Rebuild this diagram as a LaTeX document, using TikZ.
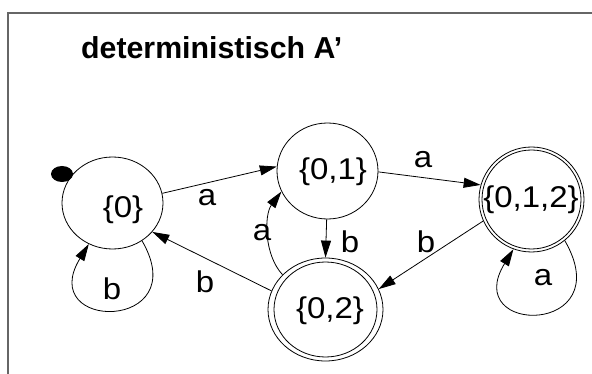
\documentclass[tikz,border=0pt]{standalone}
\usepackage{fontspec}
\setmainfont{Liberation Sans}
\newfontfamily\widefont[FakeStretch=1.1]{Liberation Sans}
\usetikzlibrary{arrows.meta,shapes.geometric}
\begin{document}
\begin{tikzpicture}[x=1pt,y=-1pt,
  state/.style={draw, ellipse, inner sep=0pt, line width=0.8pt},
  edge/.style={-{Triangle[length=17pt,width=10pt]}, line width=0.8pt},
  lab/.style={inner sep=0pt, font=\widefont\fontsize{30}{30}\selectfont},
  ttl/.style={inner sep=0pt, anchor=base west, font=\bfseries\fontsize{30.3}{30}\selectfont}]
\useasboundingbox (0,0) rectangle (592,374);
% frame
\coordinate (fbl) at (8,374);
\coordinate (ftl) at (8,13);
\coordinate (ftr) at (592,13);
\draw[gray!80!black, line width=1.3pt] (fbl) -- (ftl) -- (ftr);
% title
\node[ttl] (title) at (81,59) {deterministisch A’};
% states
\node[state, minimum width=101pt, minimum height=92pt] (s0) at (112.5,203) {};
\node[state, minimum width=101pt, minimum height=96pt] (s01) at (327.5,171) {};
\node[state, minimum width=115pt, minimum height=103pt] (s02) at (325.5,309.5) {};
\node[state, minimum width=105pt, minimum height=105pt] (s012) at (531.5,199.5) {};
\draw[line width=0.8pt] (s02.center) ellipse [x radius=51.5, y radius=47.5];
\draw[line width=0.8pt] (s012.center) ellipse [x radius=49.5, y radius=49.5];
% state texts
\node[lab] (t0) at (123,210) {\{0\}};
\node[lab] (t01) at (333,172) {\{0,1\}};
\node[lab] (t02) at (330,311) {\{0,2\}};
\node[lab] (t012) at (531,200) {\{0,1,2\}};
% initial dot
\node[fill, ellipse, inner sep=0pt, minimum width=22pt, minimum height=16pt] (init) at (62,174) {};
% edges
\draw[edge] (s0.11) -- (s01.175.7);
\draw[edge] (s01.-1) -- (s012.164.3);
\draw[edge] (s012.204.9) -- (s02.21.5);
\draw[edge] (s01.-91) -- (s02.90);
\draw[edge] (s02.141) .. controls (264,255) and (264,215) .. (s01.204.8);
\draw[edge] (s02.161.9) -- (s0.-36.3);
\draw[edge] (s0.-52) .. controls (195,332) and (35,332) .. (s0.240.5);
\draw[edge] (s012.-51.9) .. controls (620,336) and (460,336) .. (s012.250);
% edge labels
\node[lab] (l1) at (207,198) {a};
\node[lab] (l2) at (423,160) {a};
\node[lab] (l3) at (426,242) {b};
\node[lab] (l4) at (350,242) {b};
\node[lab] (l5) at (262,233) {a};
\node[lab] (l6) at (205,282) {b};
\node[lab] (l7) at (112,289) {b};
\node[lab] (l8) at (543,278) {a};
\end{tikzpicture}
\end{document}
